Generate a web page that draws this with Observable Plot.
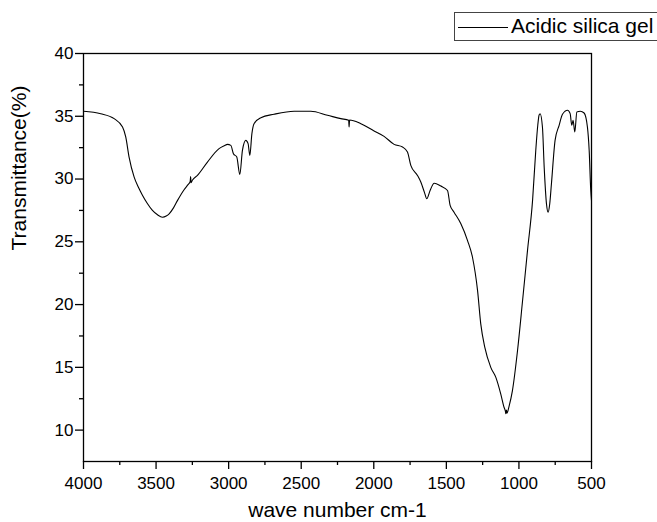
<!DOCTYPE html>
<html>
<head>
<meta charset="utf-8">
<script src="https://cdn.jsdelivr.net/npm/d3@7"></script>
<script src="https://cdn.jsdelivr.net/npm/@observablehq/plot@0.6"></script>
<style>
  html, body { margin: 0; padding: 0; background: #fff; }
  #wrap { position: relative; width: 657px; height: 522px; overflow: hidden; font-family: "Liberation Sans", Arial, sans-serif; }
  #legend { position: absolute; left: 454px; top: 12px; width: 230px; height: 29px; border: 1px solid #444; box-sizing: border-box; background: #fff; }
  #legend .swatch { position: absolute; left: 3px; top: 14px; width: 50px; height: 0; border-top: 1px solid #000; }
  #legend .lab { position: absolute; left: 56px; top: -2px; font-size: 21px; line-height: 29px; color: #000; white-space: nowrap; }
</style>
</head>
<body>
<div id="wrap"></div>
<script>
// Wavenumber (cm-1) and transmittance (%)
const wavenumber = [
  4000, 3881, 3789, 3731, 3709, 3686, 3651, 3620, 3593, 3560, 3525, 3490, 3456, 3430, 3410, 3380, 3352, 3307,
  3280, 3265, 3262, 3259, 3250, 3215, 3146, 3066, 3030, 3008, 2985, 2967, 2944, 2923, 2905, 2882,
  2866, 2854, 2840, 2825, 2778, 2687, 2549, 2434, 2319, 2227, 2173, 2170, 2167, 2089, 1998,
  1929, 1860, 1802, 1768, 1745, 1699, 1676, 1650, 1635, 1612, 1584, 1538, 1492, 1474, 1447,
  1400, 1354, 1320, 1285, 1263, 1235, 1194, 1159, 1125, 1102, 1093, 1090, 1086, 1082, 1068, 1045,
  1010, 975, 941, 906, 884, 870, 861, 854, 838, 826, 810, 799, 788, 776,
  751, 723, 700, 665, 647, 636, 627, 615, 601, 577, 551, 528, 516, 505, 500
];
const transmittance = [
  35.40, 35.20, 34.81, 34.14, 33.35, 31.75, 30.15, 29.30, 28.69, 28.05, 27.50, 27.15, 26.96, 27.05, 27.23, 27.70, 28.30, 29.15,
  29.55, 29.80, 30.20, 29.70, 29.90, 30.29, 31.35, 32.42, 32.65, 32.76, 32.68, 32.02, 31.75, 30.37, 32.28, 33.08,
  32.82, 31.88, 33.60, 34.41, 34.89, 35.16, 35.40, 35.40, 35.08, 34.81, 34.68, 34.15, 34.70, 34.41, 33.83,
  33.40, 32.76, 32.55, 32.15, 31.09, 30.29, 29.76, 28.90, 28.43, 29.09, 29.67, 29.44, 29.09, 27.90, 27.36,
  26.44, 25.10, 23.77, 21.11, 18.46, 16.59, 15.00, 14.20, 12.87, 11.80, 11.50, 11.30, 11.60, 11.35, 11.90, 13.13,
  16.30, 20.30, 24.30, 28.30, 32.28, 34.30, 35.10, 35.20, 34.14, 30.95, 28.00, 27.36, 28.00, 29.63,
  33.08, 34.28, 35.16, 35.48, 35.21, 34.28, 34.68, 33.75, 35.34, 35.40, 35.26, 34.14, 32.28, 29.09, 28.30
];
const xMajorTicks = [4000, 3500, 3000, 2500, 2000, 1500, 1000, 500];
const xMinorTicks = [3750, 3250, 2750, 2250, 1750, 1250, 750];
const yMajorTicks = [10, 15, 20, 25, 30, 35, 40];
const yMinorTicks = [12.5, 17.5, 22.5, 27.5, 32.5, 37.5];
const seriesName = "Acidic silica gel";
const xTitle = "wave number cm-1";
const yTitle = "Transmittance(%)";

const data = wavenumber.map((w, i) => ({w, t: transmittance[i]})).sort((a, b) => a.w - b.w);

const chart = Plot.plot({
  width: 657,
  height: 522,
  marginLeft: 83,
  marginRight: 66,
  marginTop: 53,
  marginBottom: 61,
  style: {fontFamily: '"Liberation Sans", Arial, sans-serif', fontSize: "17px", color: "#000", background: "#fff"},
  x: {domain: [4000, 500]},
  y: {domain: [7.5, 40]},
  marks: [
    Plot.axisX(xMajorTicks, {tickSize: 8, tickPadding: 7, fontSize: 17, tickFormat: d3.format("d"), label: null, strokeWidth: 1.3}),
    Plot.axisX(xMinorTicks, {tickSize: 4, tickFormat: () => "", label: null, strokeWidth: 1.3}),
    Plot.axisY(yMajorTicks, {tickSize: 8, tickPadding: 2, fontSize: 17, tickFormat: d3.format("d"), label: null, strokeWidth: 1.3}),
    Plot.axisY(yMinorTicks, {tickSize: 4, tickFormat: () => "", label: null, strokeWidth: 1.3}),
    Plot.frame({stroke: "#000", strokeWidth: 1.3}),
    Plot.line(data, {x: "w", y: "t", stroke: "#000", strokeWidth: 1.1, curve: "monotone-x"}),
    Plot.text([xTitle], {frameAnchor: "bottom", dy: 55, lineAnchor: "bottom", fontSize: 21, fill: "#000"}),
    Plot.text([yTitle], {frameAnchor: "left", dx: -58, dy: -7, rotate: -90, lineAnchor: "bottom", fontSize: 21, fill: "#000"})
  ]
});

const wrap = document.getElementById("wrap");
wrap.appendChild(chart);
const legend = document.createElement("div");
legend.id = "legend";
legend.innerHTML = '<div class="swatch"></div><div class="lab"></div>';
legend.querySelector(".lab").textContent = seriesName;
wrap.appendChild(legend);
</script>
</body>
</html>
